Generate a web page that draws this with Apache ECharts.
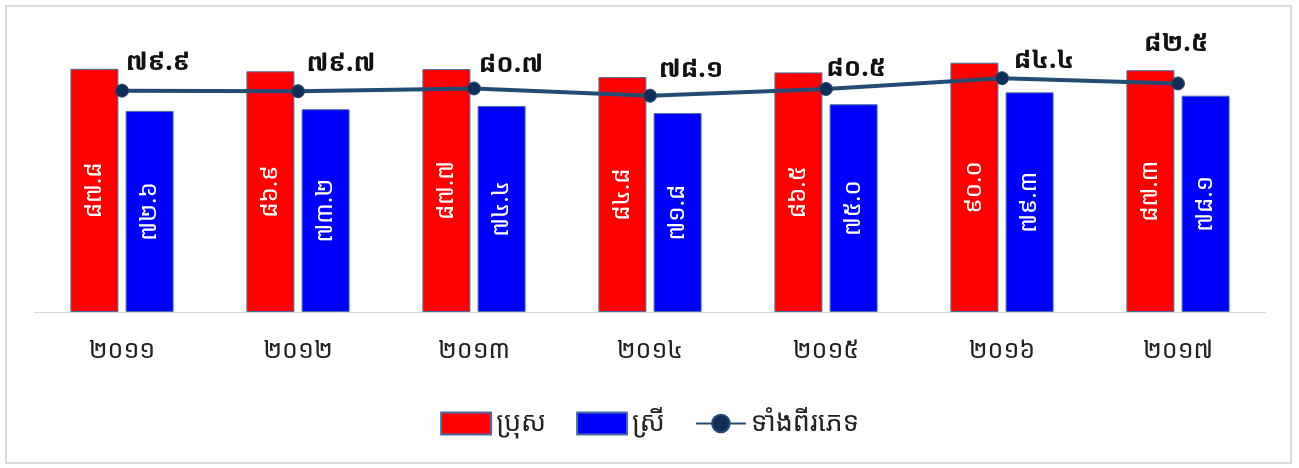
<!DOCTYPE html>
<html><head><meta charset="utf-8">
<script src="https://cdn.jsdelivr.net/npm/echarts@6/dist/echarts.min.js"></script>
<style>
html,body{margin:0;padding:0;background:#fff;}
#frame{position:absolute;left:5px;top:5px;width:1283px;height:455px;border:2px solid #d9d9d9;}
#c{position:absolute;left:0;top:0;width:1299px;height:468px;}
</style></head>
<body>
<div id="frame"></div>
<div id="c"></div>
<script>
var categories = ['២០១១','២០១២','២០១៣','២០១៤','២០១៥','២០១៦','២០១៧'];
var maleValues = [87.8, 86.9, 87.7, 84.8, 86.5, 90.0, 87.3];
var femaleValues = [72.6, 73.2, 74.4, 71.8, 75.0, 79.3, 78.1];
var bothValues = [79.9, 79.7, 80.7, 78.1, 80.5, 84.4, 82.5];
var seriesNames = ['ប្រុស','ស្រី','ទាំងពីរភេទ'];
var bothLabelOffsets = [[36,-28],[43,-28],[37,-24],[41,-26],[30,-20],[42,-18],[-2,-40]];

var khDigits = ['០','១','២','៣','៤','៥','៦','៧','៨','៩'];
function toKh(v){ return v.toFixed(1).replace(/[0-9]/g, function(d){ return khDigits[+d]; }); }

var FONT = "'Noto Sans Khmer','Khmer OS','Noto Serif Khmer','DejaVu Sans',sans-serif";

var chart = echarts.init(document.getElementById('c'));
chart.setOption({
  animation:false,
  textStyle:{fontFamily:FONT},
  grid:{left:34,right:33,top:35,bottom:156},
  legend:{
    bottom:26, left:'center', itemWidth:50, itemHeight:22, itemGap:30,
    textStyle:{fontSize:27,color:'#222',fontFamily:FONT},
    data:[{name:seriesNames[0],icon:'rect'},{name:seriesNames[1],icon:'rect'},{name:seriesNames[2]}]
  },
  xAxis:{
    type:'category', data:categories,
    axisLine:{lineStyle:{color:'#d9d9d9',width:1}},
    axisTick:{show:false},
    axisLabel:{fontSize:25,color:'#222',margin:26,fontFamily:FONT}
  },
  yAxis:{type:'value',min:0,max:100,show:false,splitLine:{show:false}},
  series:[
    {name:seriesNames[0],type:'bar',data:maleValues,barWidth:48,barGap:'15%',
     itemStyle:{color:'#ff0000',borderColor:'#4a6fa5',borderWidth:1},
     label:{show:true,position:'inside',rotate:90,color:'#fff',fontSize:24,fontFamily:FONT,
            formatter:function(p){return toKh(p.value);}}},
    {name:seriesNames[1],type:'bar',data:femaleValues,barWidth:48,barGap:'15%',
     itemStyle:{color:'#0000ff',borderColor:'#4a6fa5',borderWidth:1},
     label:{show:true,position:'inside',rotate:90,color:'#fff',fontSize:24,fontFamily:FONT,
            formatter:function(p){return toKh(p.value);}}},
    {name:seriesNames[2],type:'line',
     data:bothValues.map(function(v,i){return {value:v,label:{offset:bothLabelOffsets[i]}};}),
     symbol:'circle',symbolSize:13,
     lineStyle:{color:'#244c73',width:4},
     itemStyle:{color:'#0f2d55',borderColor:'#244c73',borderWidth:1},
     label:{show:true,position:'inside',color:'#111',fontSize:26,fontWeight:'bold',fontFamily:FONT,
            formatter:function(p){return toKh(p.value);}}}
  ]
});
</script>
</body></html>
